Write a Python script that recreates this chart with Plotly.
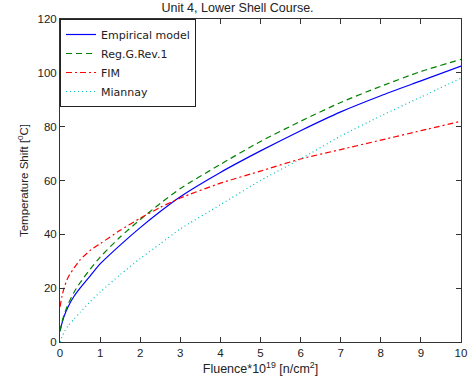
import plotly.graph_objects as go

fluence = [0, 0.05, 0.1, 0.2, 0.35, 0.5, 0.75, 1, 1.5, 2, 2.5, 3, 4, 5, 6, 7, 8, 9, 10]
empirical = [4, 7, 9.5, 13, 17, 20, 24.5, 29, 36, 42.5, 48.5, 54, 63, 71, 78.5, 85.5, 91.5, 97, 102.5]
reg_g_rev1 = [4, 7.5, 10, 14, 18.5, 22, 27, 31.5, 39, 45.5, 51.5, 57, 66, 74.5, 82, 89, 95, 100.5, 105]
fim = [13, 17, 20, 24, 27.5, 30.5, 34, 36.5, 41.5, 46, 50, 53.5, 59, 63.5, 68, 71.5, 75, 78.5, 82]
miannay = [0, 2, 3.5, 6, 8.5, 11, 15, 18.5, 25, 31, 36.5, 42, 51, 60, 68, 76.5, 84, 91, 98]

series = [
    ("Empirical model", empirical, dict(color="#0000ff", width=1.2, dash="solid")),
    ("Reg.G.Rev.1", reg_g_rev1, dict(color="#008000", width=1.2, dash="6px,4px")),
    ("FIM", fim, dict(color="#ff0000", width=1.2, dash="6px,3px,2px,3px")),
    ("Miannay", miannay, dict(color="#00bfbf", width=1.2, dash="1px,3px")),
]

fig = go.Figure()
for name, ys, line in series:
    fig.add_trace(go.Scatter(x=fluence, y=ys, mode="lines", name=name,
                             line=dict(shape="spline", smoothing=0.6, **line)))

axis_common = dict(showline=True, linecolor="#333", linewidth=1, mirror="ticks",
                   ticks="inside", ticklen=5, tickcolor="#333", showgrid=False,
                   zeroline=False, tickfont=dict(size=11.5, color="#222"))

fig.update_layout(
    width=475, height=387,
    margin=dict(l=60, r=8, t=19, b=45),
    paper_bgcolor="white", plot_bgcolor="white",
    font=dict(family="Liberation Sans, Arial, sans-serif", size=12, color="#222"),
    title=dict(text="Unit 4, Lower Shell Course.", x=0.5, xanchor="center",
               y=0.992, yanchor="top", font=dict(size=12.5, color="#222")),
    xaxis=dict(range=[0, 10], tickvals=list(range(0, 11)),
               title=dict(text="Fluence*10<sup>19</sup> [n/cm<sup>2</sup>]", standoff=6,
                          font=dict(size=12.5)), **axis_common),
    yaxis=dict(range=[0, 120], tickvals=list(range(0, 121, 20)),
               title=dict(text="Temperature Shift [<sup>0</sup>C]", standoff=6,
                          font=dict(size=11.5)), **axis_common),
    legend=dict(x=0, y=1, xanchor="left", yanchor="top", bordercolor="#222",
                borderwidth=1, bgcolor="white",
                font=dict(family="DejaVu Sans, sans-serif", size=11, color="#222"),
                tracegroupgap=0),
    showlegend=True,
)

fig.write_html("out.html")
